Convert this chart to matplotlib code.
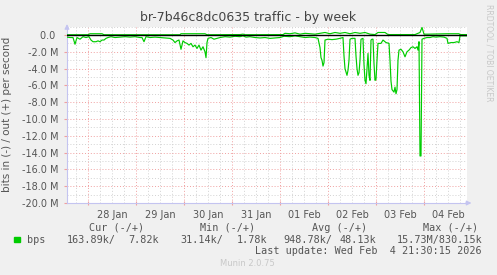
import pandas as pd
import matplotlib
matplotlib.use('Agg')
import matplotlib.pyplot as plt
import matplotlib.dates as mdates
import matplotlib.patches as patches
from matplotlib.ticker import MultipleLocator, FuncFormatter

plt.rcParams['font.family'] = 'DejaVu Sans'

# --- data (hours since the left edge of the graph, Mbit/s) ---
start = pd.Timestamp('2026-01-27 13:30')
end = pd.Timestamp('2026-02-04 21:30')

in_hours = [0, 1.5, 3, 4, 5, 6.5, 8, 9.5, 11, 12, 13, 14.5, 15.5, 16.5, 17.5, 18.5,
            19.5, 20.5, 22, 24, 26.5, 29, 31.5, 34, 36.5, 37.5, 38.5, 39.5, 41.5, 44,
            46.5, 49, 51.5, 53, 54, 55, 56, 57, 58, 59, 60, 61, 62, 63, 64, 65, 66,
            67, 68, 69, 69.5, 70, 70.5, 72, 73.5, 75, 76.5, 79, 81.5, 84, 86.5, 88,
            89.5, 91.5, 94, 96.5, 99, 101.5, 104, 106.5, 108.5, 111.5, 114, 116.5, 119,
            121.5, 124, 125.5, 126.5, 127, 127.5, 128, 128.5, 129, 130.5, 132.5, 134.5,
            136.5, 138, 138.5, 139, 139.5, 140, 140.5, 141, 141.5, 142.5, 144, 144.5,
            145, 145.5, 146, 146.5, 147, 148, 148.5, 149, 149.5, 150, 150.5, 151,
            151.5, 152, 152.5, 153, 153.5, 154, 154.5, 155, 155.5, 157, 158, 159.5,
            161, 161.5, 162, 162.5, 163.5, 164, 164.5, 165, 165.5, 166, 167, 168, 169,
            170, 171, 172, 173, 174, 175, 175.5, 176, 176.5, 177, 177.5, 178.5, 180,
            181.5, 183, 184.5, 186.5, 188.5, 190, 190.5, 192, 193.5, 195, 196, 196.5,
            198, 200]
in_mbps = [0.25, 0.3, 0.3, 1.1, 0.3, 0.5, 0.2, 0.3, 0.2, 0.6, 0.8, 0.8, 0.7, 0.8, 0.6, 0.6,
           0.4, 0.3, 0.2, 0.3, 0.25, 0.2, 0.25, 0.2, 0.3, 0.3, 0.8, 0.2, 0.3, 0.25,
           0.3, 0.35, 0.4, 0.6, 0.9, 0.7, 0.6, 1.7, 0.7, 0.9, 1.0, 1.2, 1.0, 1.4, 1.2, 1.6, 1.2,
           1.8, 1.4, 2.0, 2.7, 0.9, 0.4, 0.3, 0.5, 0.4, 0.3, 0.2, 0.25, 0.15, 0.2, 0.1,
           0.25, 0.2, 0.3, 0.35, 0.3, 0.4, 0.35, 0.3, 0.15, 0.2, 0.1, 0.2, 0.3,
           0.25, 0.3, 0.4, 1.5, 2.7, 3.0, 3.7, 3.3, 0.6, 0.5, 0.55, 0.5,
           0.4, 0.3, 2.5, 4.0, 4.4, 4.8, 4.2, 3.0, 0.5, 0.4, 0.4, 2.5,
           4.0, 4.8, 4.5, 3.0, 0.5, 0.4, 3.5, 5.4, 5.8, 4.0, 2.2, 4.8,
           5.4, 0.6, 0.5, 0.5, 3.4, 5.4, 5.3, 3.0, 1.0, 1.0, 0.6, 0.9,
           1.0, 3.0, 5.5, 6.5, 6.8, 6.2, 7.0, 6.5, 3.0, 1.8, 1.7, 2.0, 2.6,
           2.0, 1.8, 1.5, 1.4, 1.6, 1.4, 1.8, 0.8, 14.4, 14.4, 0.5, 0.4, 0.3,
           0.3, 0.2, 0.25, 0.2, 0.25, 0.4, 1.0, 0.9, 0.9, 0.8, 0.9, 0.1,
           0.1, 0.1]

out_hours = [0, 10.5, 11.5, 17.5, 18.5, 56.5, 57, 69, 70, 86.5, 88, 89, 108, 109, 111.5,
             114, 116.5, 119, 121.5, 124, 126.5, 129, 131.5, 134, 136.5, 139, 141.5, 144,
             146.5, 149, 151.5, 154, 155.5, 159, 160.5, 174, 176.5, 177.5, 178.5, 180.5,
             190, 196, 196.5, 200]
out_mbps = [0.03, 0.03, 0.15, 0.15, 0.03, 0.03, 0.15, 0.15, 0.03, 0.05, 0.1, 0.03, 0.05, 0.2, 0.15,
            0.25, 0.1, 0.2, 0.15, 0.1, 0.2, 0.3, 0.15, 0.3, 0.2, 0.3, 0.15, 0.3,
            0.2, 0.3, 0.1, 0.05, 0.3, 0.3, 0.05, 0.05, 0.3, 0.9, 0.1, 0.1,
            0.15, 0.15, 0.05, 0.05]

legend_headers = ['Cur (-/+)', 'Min (-/+)', 'Avg (-/+)', 'Max (-/+)']
legend_values = ['163.89k/', '7.82k', '31.14k/', '1.78k', '948.78k/', '48.13k', '15.73M/830.15k']

W, H = 497, 275
GREEN = '#00cc00'
AXIS = '#c4c4f0'
TXT = '#555555'


def px(x, y):
    # image pixel -> figure fraction
    return x / W, 1 - y / H


fig = plt.figure(figsize=(W / 100, H / 100), dpi=100, facecolor='#f0f0f0')
ax = fig.add_axes([67 / W, 72 / H, 400 / W, 176.4 / H])
ax.set_facecolor('white')

t_in = start + pd.to_timedelta(in_hours, unit='h')
t_out = start + pd.to_timedelta(out_hours, unit='h')
ax.plot(t_in, [-v for v in in_mbps], color=GREEN, lw=0.85, zorder=3)
ax.plot(t_out, out_mbps, color=GREEN, lw=0.85, zorder=3)
ax.axhline(0, color='black', lw=1.0, zorder=4)

ax.set_xlim(start, end)
ax.set_ylim(-20, 1.0)

# x grid: red at midnight, gray every 6 h, labels at noon
ax.xaxis.set_major_locator(mdates.DayLocator())
ax.xaxis.set_major_formatter(FuncFormatter(lambda v, p: ''))
ax.xaxis.set_minor_locator(mdates.HourLocator(byhour=[6, 12, 18]))
ax.xaxis.set_minor_formatter(FuncFormatter(
    lambda v, p: mdates.num2date(v).strftime('%d %b') if mdates.num2date(v).hour == 12 else ''))

ax.yaxis.set_major_locator(MultipleLocator(2))
ax.yaxis.set_minor_locator(MultipleLocator(1))
ax.yaxis.set_major_formatter(FuncFormatter(lambda v, p: '0.0 ' if abs(v) < 1e-9 else f'{v:.1f} M'))

ax.grid(which='major', color='#f0a0a0', lw=0.7, linestyle=(0, (1, 2)))
ax.grid(which='minor', color='#d2d2d2', lw=0.7, linestyle=(0, (1, 2)))
ax.set_axisbelow(True)

ax.tick_params(axis='x', which='major', length=3, color='#f0a0a0', direction='inout')
ax.tick_params(axis='x', which='minor', length=0, labelsize=7, labelcolor=TXT, pad=5)
ax.tick_params(axis='y', which='major', length=2, color='#f0a0a0', labelsize=7, labelcolor=TXT, pad=4)
ax.tick_params(axis='y', which='minor', length=0)

for s in ['top', 'right']:
    ax.spines[s].set_visible(False)
for s in ['left', 'bottom']:
    ax.spines[s].set_color(AXIS)
    ax.spines[s].set_linewidth(0.8)

# axis arrows
ax.annotate('', xy=(0, 1.03), xytext=(0, 0.98), xycoords='axes fraction',
            arrowprops=dict(arrowstyle='-|>', color=AXIS, lw=0.8, mutation_scale=7), annotation_clip=False)
ax.annotate('', xy=(1.018, 0), xytext=(0.99, 0), xycoords='axes fraction',
            arrowprops=dict(arrowstyle='-|>', color=AXIS, lw=0.8, mutation_scale=7), annotation_clip=False)

ax.set_ylabel('bits in (-) / out (+) per second', fontsize=7.5, color=TXT, labelpad=7)

fig.text(*px(248, 17), 'br-7b46c8dc0635 traffic - by week', ha='center', va='center',
         fontsize=9, color='#444444')
fig.text(*px(489, 53), 'RRDTOOL / TOBI OETIKER', ha='center', va='center', rotation=-90,
         fontsize=5.5, color='#c8c8c8')

# legend block
mono = dict(family='DejaVu Sans Mono', fontsize=7.3, color=TXT, va='center')
for x, label in zip([89, 200, 312, 423], legend_headers):
    fig.text(*px(x, 228), label, **mono)
fig.add_artist(patches.Rectangle(px(14, 242), 5.5 / W, 5.5 / H, transform=fig.transFigure,
                                 color=GREEN))
fig.text(*px(27, 240), 'bps', **mono)
for x, label in zip([67, 128, 180, 237, 283, 339, 397], legend_values):
    fig.text(*px(x, 240), label, **mono)
fig.text(*px(482, 251), 'Last update: Wed Feb  4 21:30:15 2026', ha='right', **mono)
fig.text(*px(247, 264), 'Munin 2.0.75', ha='center', va='center', fontsize=6, color='#c8c8c8')

fig.savefig('out.png', dpi=100, facecolor=fig.get_facecolor())
